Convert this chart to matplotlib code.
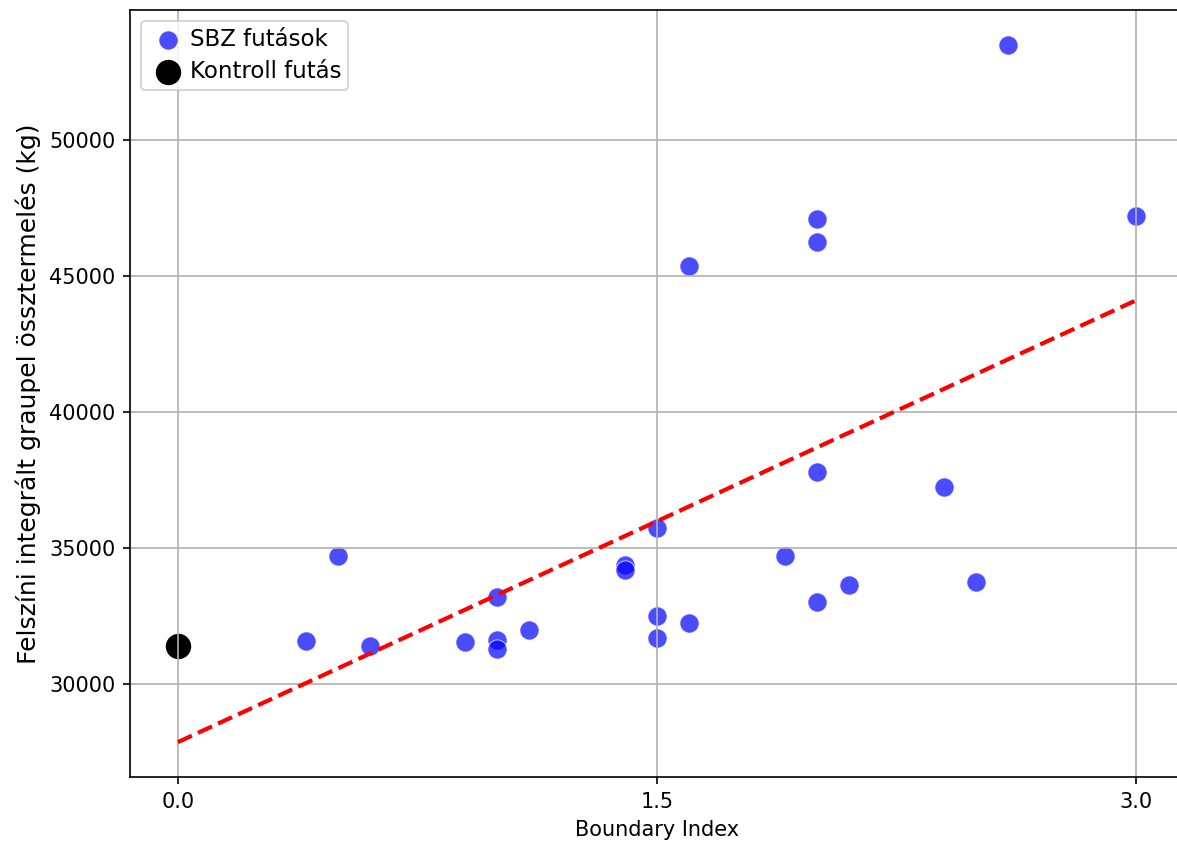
import matplotlib
matplotlib.use("Agg")
import matplotlib.pyplot as plt
import numpy as np

# SBZ runs: boundary index vs surface integrated graupel (kg)
sbz_x = [0.4, 0.5, 0.6, 0.9, 1.0, 1.0, 1.0, 1.1, 1.4, 1.4, 1.5, 1.5, 1.5,
         1.6, 1.6, 1.9, 2.0, 2.0, 2.0, 2.0, 2.1, 2.4, 2.5, 2.6, 3.0]
sbz_y = [31580, 34720, 31400, 31550, 33200, 31620, 31290, 31990, 34380, 34200,
         35750, 32500, 31690, 45360, 32250, 34720, 47090, 46240, 37810, 33020,
         33650, 37260, 33760, 53500, 47200]
# control run
ctrl_x = [0.0]
ctrl_y = [31400]

# linear trend
trend_slope = 5415.0
trend_icpt = 27864.0

xticks = [0.0, 1.5, 3.0]

fig = plt.figure(figsize=(1177 / 150, 841 / 150), dpi=150)
ax = fig.add_axes([130 / 1177, 64 / 841, 1054 / 1177, 767 / 841])

ax.scatter(sbz_x, sbz_y, s=85, color="blue", alpha=0.7, edgecolors="white",
           linewidths=0.5, label="SBZ futások")
ax.scatter(ctrl_x, ctrl_y, s=125, color="black", label="Kontroll futás")

all_x = np.array(ctrl_x + sbz_x)
xx = np.linspace(all_x.min(), all_x.max(), 100)
ax.plot(xx, trend_slope * xx + trend_icpt, "r--", linewidth=2)

ax.set_xticks(xticks)
ax.set_xlabel("Boundary Index", fontsize=10)
ax.set_ylabel("Felszíni integrált graupel össztermelés (kg)", fontsize=12)
ax.tick_params(labelsize=10)
ax.grid(True)
ax.legend(loc="upper left", fontsize=11, handlelength=1.7, handletextpad=0.1,
          borderpad=0.3, labelspacing=0.4)

fig.savefig("out.png", dpi=150)
